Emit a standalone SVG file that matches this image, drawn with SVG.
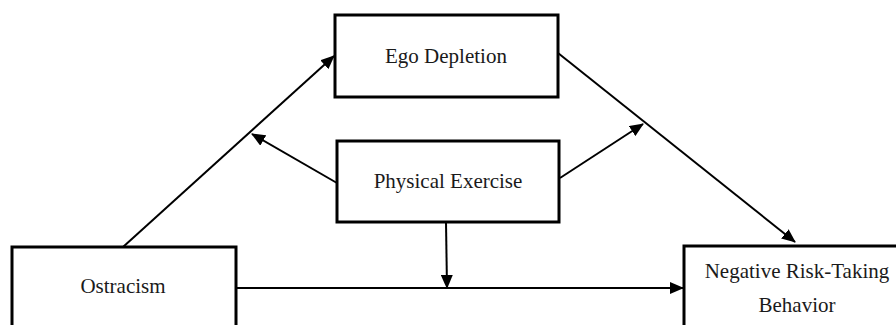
<svg xmlns="http://www.w3.org/2000/svg" width="896" height="325" viewBox="0 0 896 325">
<style>
.box{fill:#fff;stroke:#000;stroke-width:3}
.lbl{font-family:"Liberation Serif","Times New Roman",serif;font-size:21px;fill:#1a1a1a;text-anchor:middle}
.con{fill:none;stroke:#000;stroke-width:2;marker-end:url(#ah)}
</style>
<defs>
<marker id="ah" markerUnits="userSpaceOnUse" markerWidth="14" markerHeight="12" refX="13" refY="6" orient="auto">
<path d="M0,0 L14,6 L0,12 z" fill="#000"/>
</marker>
</defs>
<rect width="896" height="325" fill="#fff"/>
<g id="connectors">
<line class="con" x1="123" y1="247" x2="334" y2="56"/>
<line class="con" x1="337" y1="183" x2="252" y2="134"/>
<line class="con" x1="558" y1="53" x2="795" y2="242"/>
<line class="con" x1="560" y1="178" x2="643" y2="124"/>
<line class="con" x1="446" y1="222" x2="447" y2="288"/>
<line class="con" x1="236" y1="288" x2="683" y2="288"/>
</g>
<g id="ego">
<rect class="box" x="335" y="15" width="223" height="82"/>
<text class="lbl" x="446" y="63">Ego Depletion</text>
</g>
<g id="exercise">
<rect class="box" x="337" y="141" width="222" height="81"/>
<text class="lbl" x="448" y="188">Physical Exercise</text>
</g>
<g id="ostracism">
<rect class="box" x="12" y="247" width="224" height="90"/>
<text class="lbl" x="123" y="293">Ostracism</text>
</g>
<g id="negative">
<rect class="box" x="684" y="246" width="230" height="90"/>
<text class="lbl" x="797" y="278">Negative Risk-Taking</text>
<text class="lbl" x="797" y="312">Behavior</text>
</g>
</svg>
